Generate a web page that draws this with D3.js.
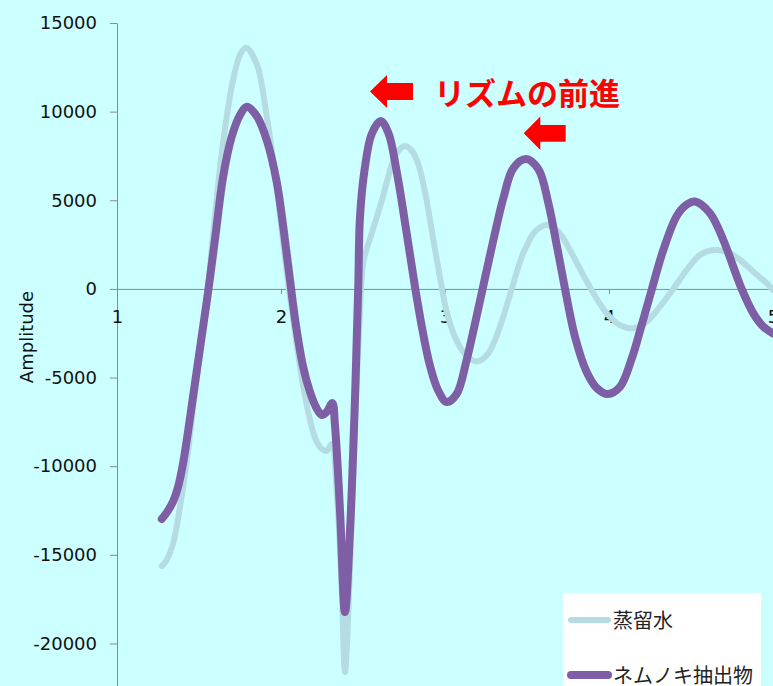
<!DOCTYPE html>
<html>
<head>
<meta charset="utf-8">
<script src="https://cdn.jsdelivr.net/npm/d3@7"></script>
<style>
  html, body { margin: 0; padding: 0; background: #ccffff; }
  svg { display: block; }
</style>
</head>
<body>
<svg id="chart" width="773" height="686"></svg>
<script>
// Series: distilled water (蒸留水) and silk tree extract (ネムノキ抽出物)
const seriesNames = ["蒸留水", "ネムノキ抽出物"];

const waterX = [1.273, 1.303, 1.343, 1.384, 1.425, 1.457, 1.494, 1.526, 1.555, 1.587,
  1.628, 1.669, 1.709, 1.750, 1.787, 1.852, 1.913, 1.974, 2.035, 2.096,
  2.134, 2.177, 2.213, 2.244, 2.279, 2.309, 2.340, 2.370, 2.390, 2.421,
  2.451, 2.476, 2.502, 2.524, 2.558, 2.614, 2.685, 2.720, 2.756, 2.799,
  2.835, 2.878, 2.921, 2.970, 3.012, 3.061, 3.122, 3.193, 3.264, 3.335,
  3.407, 3.477, 3.549, 3.620, 3.691, 3.762, 3.843, 3.915, 3.986, 4.067,
  4.148, 4.230, 4.311, 4.392, 4.474, 4.555, 4.636, 4.718, 4.799, 4.880,
  4.962, 5.000];
const waterY = [-15630, -15290, -14330, -12300, -9770, -7280, -4460, -2040, 110, 3150,
  6820, 9720, 11840, 13200, 13600, 12690, 9750, 5690, 950, -3170,
  -5420, -7400, -8520, -8980, -9140, -8750, -11460, -16760, -21610, -15690,
  -7400, -2320, 1520, 2310, 3270, 4960, 7270, 7840, 8060, 7780,
  7100, 5470, 3210, 620, -1360, -2710, -3670, -4100, -3630, -2130,
  0, 2010, 3230, 3610, 3230, 2190, 780, -400, -1380, -2040,
  -2220, -1850, -1000, 0, 1070, 1910, 2190, 2100, 1630, 970,
  320, -60];

const extractX = [1.273, 1.305, 1.343, 1.372, 1.404, 1.465, 1.516, 1.557, 1.597, 1.648,
  1.699, 1.750, 1.791, 1.852, 1.913, 1.974, 2.018, 2.055, 2.091, 2.134,
  2.177, 2.213, 2.248, 2.279, 2.313, 2.329, 2.360, 2.390, 2.421, 2.451,
  2.471, 2.482, 2.512, 2.553, 2.608, 2.655, 2.706, 2.767, 2.817, 2.866,
  2.909, 2.957, 3.010, 3.071, 3.132, 3.193, 3.244, 3.295, 3.356, 3.417,
  3.494, 3.569, 3.630, 3.681, 3.732, 3.793, 3.864, 3.925, 3.992, 4.067,
  4.138, 4.199, 4.260, 4.331, 4.413, 4.470, 4.524, 4.616, 4.697, 4.758,
  4.809, 4.880, 4.941, 5.000];
const extractY = [-12980, -12590, -11970, -11180, -9770, -5990, -2710, -60, 2760, 6370,
  8570, 9810, 10280, 9750, 8400, 6030, 3210, 500, -2040, -4350,
  -5820, -6660, -7110, -6940, -6440, -7680, -12530, -18230, -13600, -6210,
  110, 4110, 6880, 8740, 9470, 8790, 6590, 3100, 110, -2490,
  -4350, -5700, -6380, -5930, -4010, -1530, 620, 2760, 5130, 6820,
  7330, 6760, 4850, 2480, 0, -2710, -4690, -5590, -5930, -5530,
  -3950, -2040, -60, 2190, 4110, 4730, 4930, 4270, 2760, 1250,
  0, -1380, -2130, -2510];

const xTicks = [1, 2, 3, 4, 5];
const yTicks = [15000, 10000, 5000, 0, -5000, -10000, -15000, -20000];
const yTitle = "Amplitude";
const noteText = "リズムの前進";

const colors = ["#b5dbe3", "#7e5fa5"];
const widths = [6, 8];

const svg = d3.select("#chart");
const W = 773, H = 686;

svg.append("rect").attr("width", W).attr("height", H).attr("fill", "#ccffff");

const x = d3.scaleLinear().domain([1, 5]).range([117, 773]);
const y = d3.scaleLinear().domain([-22500, 15000]).range([687.8, 23]);

const tickFont = "'DejaVu Sans', Verdana, sans-serif";
const plain = d => String(d);

// Y axis
const yAxis = svg.append("g")
  .attr("transform", `translate(${x(1)},0)`)
  .call(d3.axisLeft(y).tickValues(yTicks).tickSize(7).tickSizeOuter(0).tickPadding(13)
    .tickFormat(plain));
yAxis.select(".domain").attr("stroke", "#8a8a8a");
yAxis.selectAll(".tick line").attr("stroke", "#8a8a8a");
yAxis.selectAll("text").attr("font-family", tickFont).attr("font-size", 18).attr("fill", "#111");

// X axis crossing at zero
const xAxis = svg.append("g")
  .attr("transform", `translate(0,${y(0)})`)
  .call(d3.axisBottom(x).tickValues(xTicks).tickSize(5).tickSizeOuter(0).tickPadding(16)
    .tickFormat(plain));
xAxis.select(".domain").attr("stroke", "#8a8a8a");
xAxis.selectAll(".tick line").attr("stroke", "#8a8a8a");
xAxis.selectAll("text").attr("font-family", tickFont).attr("font-size", 18).attr("fill", "#111");

// Y axis title
svg.append("text")
  .attr("transform", `translate(33,337) rotate(-90)`)
  .attr("text-anchor", "middle")
  .attr("font-family", tickFont)
  .attr("font-size", 18)
  .attr("fill", "#111")
  .text(yTitle);

// Lines
const line = d3.line()
  .x(d => x(d[0]))
  .y(d => y(d[1]))
  .curve(d3.curveCatmullRom.alpha(0.5));

const series = [
  d3.zip(waterX, waterY),
  d3.zip(extractX, extractY)
];

series.forEach((pts, i) => {
  svg.append("path")
    .datum(pts)
    .attr("d", line)
    .attr("fill", "none")
    .attr("stroke", colors[i])
    .attr("stroke-width", widths[i])
    .attr("stroke-linecap", "round")
    .attr("stroke-linejoin", "round");
});

// Annotation: arrows and caption
const arrow = (tipX, tipY, headLen, headHalf, shaftHalf, shaftEnd) =>
  `M${tipX},${tipY} L${tipX + headLen},${tipY - headHalf} L${tipX + headLen},${tipY - shaftHalf}` +
  ` L${shaftEnd},${tipY - shaftHalf} L${shaftEnd},${tipY + shaftHalf} L${tipX + headLen},${tipY + shaftHalf}` +
  ` L${tipX + headLen},${tipY + headHalf} Z`;

svg.append("path").attr("d", arrow(370, 91.5, 17, 16.5, 8.5, 413)).attr("fill", "#ff0000");
svg.append("path").attr("d", arrow(523.7, 133.3, 16.6, 16.7, 8.4, 565.7)).attr("fill", "#ff0000");

svg.append("text")
  .attr("x", 434)
  .attr("y", 105)
  .attr("font-family", "'Noto Sans CJK JP', sans-serif")
  .attr("font-weight", 700)
  .attr("font-size", 31)
  .attr("fill", "#ff0000")
  .text(noteText);

// Legend
const legend = svg.append("g");
legend.append("rect")
  .attr("x", 563).attr("y", 593).attr("width", 198).attr("height", 100)
  .attr("fill", "#ffffff");

seriesNames.forEach((name, i) => {
  const ly = 620 + i * 55;
  legend.append("line")
    .attr("x1", 571).attr("x2", 608)
    .attr("y1", ly).attr("y2", ly)
    .attr("stroke", colors[i])
    .attr("stroke-width", widths[i])
    .attr("stroke-linecap", "round");
  legend.append("text")
    .attr("x", 613)
    .attr("y", ly + 7.5)
    .attr("font-family", "'Noto Sans CJK JP', sans-serif")
    .attr("font-size", 20)
    .attr("fill", "#222")
    .text(name);
});
</script>
</body>
</html>
